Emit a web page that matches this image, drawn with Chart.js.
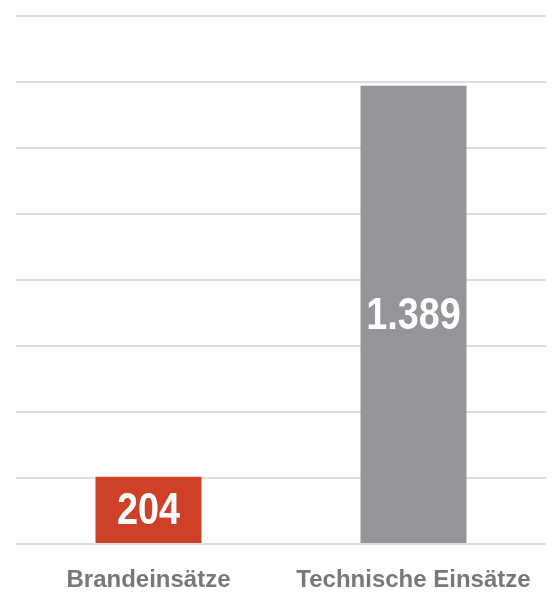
<!DOCTYPE html>
<html>
<head>
<meta charset="utf-8">
<script src="https://cdn.jsdelivr.net/npm/chart.js@4"></script>
<style>
  html, body { margin: 0; padding: 0; background: #fff; }
  #wrap { width: 557px; height: 595px; position: relative; }
</style>
</head>
<body>
<div id="wrap"><canvas id="einsatzChart"></canvas></div>
<script>
const categories = ['Brandeinsätze', 'Technische Einsätze'];
const einsaetze = [204, 1389];
const valueLabels = ['204', '1.389'];
const barColors = ['#cf4029', '#939598'];

// value text inside each bar, squeezed a bit to look condensed
const barValues = {
    id: 'barValues',
    afterDatasetsDraw(chart) {
        const ctx = chart.ctx;
        const meta = chart.getDatasetMeta(0);
        meta.data.forEach((bar, i) => {
            const mid = (bar.y + bar.base) / 2;
            ctx.save();
            ctx.translate(bar.x, mid + 2);
            ctx.scale(0.84, 1);
            ctx.fillStyle = '#ffffff';
            ctx.font = 'bold 45px "Liberation Sans", Arial, sans-serif';
            ctx.textAlign = 'center';
            ctx.textBaseline = 'middle';
            ctx.fillText(valueLabels[i], 0, 0);
            ctx.restore();
        });
    }
};

const ctx = document.getElementById('einsatzChart').getContext('2d');
new Chart(ctx, {
    type: 'bar',
    data: {
        labels: categories,
        datasets: [{
            data: einsaetze,
            backgroundColor: barColors,
            barPercentage: 0.4,
            categoryPercentage: 1.0
        }]
    },
    options: {
        responsive: true,
        maintainAspectRatio: false,
        animation: false,
        layout: {
            padding: { left: 16, right: 11, top: 16, bottom: 0 }
        },
        plugins: {
            legend: { display: false },
            tooltip: { enabled: false }
        },
        scales: {
            y: {
                min: 0,
                max: 1600,
                ticks: { display: false, stepSize: 200 },
                grid: { color: '#dedede', lineWidth: 2, drawTicks: false },
                border: { display: false }
            },
            x: {
                grid: { display: false, drawTicks: false },
                border: { display: false },
                afterFit: function(scale) {
                    scale.height = 51;
                },
                ticks: {
                    color: '#77787b',
                    padding: 22,
                    font: { family: '"Liberation Sans", Arial, sans-serif', size: 24, weight: 'bold' }
                }
            }
        }
    },
    plugins: [barValues]
});
</script>
</body>
</html>
